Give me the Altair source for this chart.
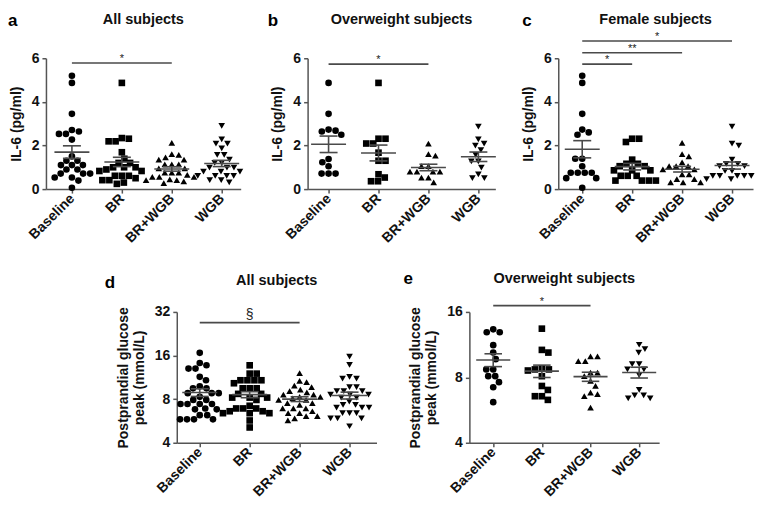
import json
import math
import altair as alt
import pandas as pd

F = "Liberation Sans"
groups = ["Baseline", "BR", "BR+WGB", "WGB"]
shapes = ["circle", "square", "triangle-up", "triangle-down"]

# ---- Panel a: IL-6, all subjects (pg/ml)
a_baseline = [5.20, 4.87, 3.45, 2.71, 2.64, 2.53, 2.53, 2.27, 1.50, 1.30, 1.30, 1.10, 1.10, 1.10,
              0.90, 0.90, 0.71, 0.71, 0.71, 0.53, 0.53, 0.39, 0.06]
a_br = [4.87, 2.34, 2.31, 2.19, 2.19, 1.69, 1.39, 1.20, 1.20, 1.00, 1.00, 1.00, 0.90, 0.83, 0.83,
        0.61, 0.61, 0.61, 0.50, 0.41, 0.41, 0.30, 0.24]
a_brwgb = [2.12, 1.60, 1.57, 1.45, 1.35, 1.35, 1.13, 1.13, 1.13, 0.95, 0.95, 0.76, 0.76, 0.76,
           0.65, 0.56, 0.56, 0.56, 0.45, 0.41, 0.41, 0.35, 0.27]
a_wgb = [2.90, 2.28, 2.09, 2.09, 1.87, 1.57, 1.57, 1.35, 1.20, 1.20, 0.98, 0.98, 0.98, 0.80, 0.80,
         0.80, 0.61, 0.61, 0.61, 0.61, 0.41, 0.41, 0.31]

# ---- Panel b: IL-6, overweight subjects
b_baseline = [4.87, 3.45, 2.73, 2.68, 2.64, 2.49, 1.38, 1.23, 1.05, 0.71, 0.71, 0.71]
b_br = [4.87, 2.31, 2.31, 2.09, 2.09, 1.67, 1.30, 1.30, 0.68, 0.53, 0.36, 0.36]
b_brwgb = [2.09, 1.60, 1.54, 1.05, 1.05, 0.80, 0.80, 0.80, 0.80, 0.53, 0.53, 0.31]
b_wgb = [2.87, 2.28, 2.09, 1.99, 1.79, 1.57, 1.27, 1.27, 0.98, 0.68, 0.50, 0.50]

# ---- Panel c: IL-6, female subjects
c_baseline = [5.20, 4.87, 3.45, 2.73, 2.60, 2.49, 1.39, 1.39, 1.05, 0.75, 0.75, 0.75, 0.75,
              0.50, 0.50, 0.06]
c_br = [2.31, 2.31, 2.16, 1.35, 1.16, 1.16, 1.05, 1.05, 0.86, 0.86, 0.86, 0.61, 0.61, 0.61,
        0.39, 0.39, 0.39, 0.39]
c_brwgb = [2.12, 1.60, 1.50, 1.23, 1.05, 1.05, 1.05, 0.90, 0.90, 0.68, 0.68, 0.46, 0.46, 0.31,
           0.31, 0.31]
c_wgb = [2.87, 2.09, 1.99, 1.35, 1.16, 1.16, 1.05, 1.05, 0.83, 0.83, 0.61, 0.61, 0.61, 0.61,
         0.61, 0.46, 0.46]

# ---- Panel d: postprandial glucose peak, all subjects (mmol/L)
d_baseline = [16.7, 14.2, 13.7, 13.0, 13.0, 11.4, 10.8, 9.8, 9.5, 9.5, 8.8, 8.8, 8.8, 8.3, 7.9,
              7.9, 7.4, 7.4, 7.4, 7.4, 6.9, 6.8, 6.8, 6.2, 6.2, 5.8, 5.8, 5.8, 5.8]
d_br = [13.7, 12.0, 12.0, 10.8, 10.8, 10.8, 10.8, 10.3, 9.5, 9.5, 9.5, 8.7, 8.7, 8.2, 8.2, 8.2,
        7.9, 7.2, 6.9, 6.9, 6.9, 6.6, 6.6, 6.4, 6.4, 6.4, 5.7, 5.1]
d_brwgb = [12.1, 10.7, 10.5, 9.9, 9.7, 9.3, 9.1, 8.9, 8.6, 8.6, 8.3, 8.3, 8.1, 7.9, 7.9, 7.5,
           7.5, 7.3, 6.9, 6.9, 6.9, 6.6, 6.4, 6.4, 6.1, 6.1, 5.9, 5.7]
d_wgb = [15.7, 13.8, 11.4, 11.1, 11.1, 9.7, 9.7, 9.1, 9.1, 9.1, 8.6, 8.6, 8.6, 8.2, 8.2, 7.7,
         7.3, 7.3, 7.0, 7.0, 7.0, 6.4, 6.4, 6.4, 5.9, 5.9, 5.9, 5.2]

# ---- Panel e: postprandial glucose peak, overweight subjects
e_baseline = [13.3, 12.9, 12.9, 11.25, 10.4, 9.7, 8.7, 8.7, 8.1, 8.1, 7.6, 7.2, 6.15]
e_br = [13.4, 10.7, 10.4, 8.8, 8.7, 8.7, 8.6, 8.1, 7.3, 7.0, 6.55, 6.55, 6.3]
e_brwgb = [10.0, 10.0, 9.5, 9.5, 8.4, 8.4, 8.1, 7.7, 7.3, 6.8, 6.7, 6.55, 5.8]
e_wgb = [11.3, 10.8, 10.4, 9.2, 9.2, 8.7, 8.7, 8.2, 7.0, 6.6, 6.6, 6.4, 6.4]

# significance bars: (from group, to group, height, label)
sig_a = [("Baseline", "BR+WGB", 5.78, "*")]
sig_b = [("Baseline", "BR+WGB", 5.73, "*")]
sig_c = [("Baseline", "BR", 5.73, "*"), ("Baseline", "BR+WGB", 6.25, "**"),
         ("Baseline", "WGB", 6.79, "*")]
sig_d = [("Baseline", "BR+WGB", 27.0, "§")]
sig_e = [("Baseline", "BR+WGB", 17.1, "*")]

LINE = "#4a4a4a"
LETTER_SIZE = 17


def swarm_offsets(values, to_px, ppu_x, diam=7.0, step=0.25):
    """Deterministic beeswarm layout: horizontal offsets (data units) so markers don't overlap."""
    idx = sorted(range(len(values)), key=lambda i: -values[i])
    placed = []
    out = [0.0] * len(values)
    for i in idx:
        yp = to_px(values[i])
        k = 0
        found = None
        while found is None:
            if k == 0:
                cands = [0.0]
            else:
                side = sum(p for p, _ in placed)
                cands = [k * step, -k * step] if side <= 0 else [-k * step, k * step]
            for s in cands:
                if all((s - px) ** 2 + (yp - py) ** 2 >= diam * diam for px, py in placed):
                    found = s
                    break
            k += 1
        placed.append((found, yp))
        out[i] = found / ppu_x
    return out


def panel(series, *, title, title_offset, letter, letter_x, letter_y, ytitle, ydomain, yticks,
          log, width, height, xdomain, sig, sig_size, sig_dy):
    if log:
        ppu_y = height / (math.log2(ydomain[1]) - math.log2(ydomain[0]))
        to_px = lambda v: math.log2(v) * ppu_y
    else:
        ppu_y = height / (ydomain[1] - ydomain[0])
        to_px = lambda v: v * ppu_y
    ppu_x = width / (xdomain[1] - xdomain[0])

    rows = []
    for gi, vals in enumerate(series):
        offs = swarm_offsets(vals, to_px, ppu_x)
        for v, o in zip(vals, offs):
            rows.append({"group": groups[gi], "g": gi, "v": v, "xp": gi + o})
    df = pd.DataFrame(rows)

    if log:
        yscale = alt.Scale(type="log", base=2, domain=ydomain, nice=False)
    else:
        yscale = alt.Scale(domain=ydomain, nice=False, zero=False)
    xscale = alt.Scale(domain=xdomain, nice=False, zero=False)
    xaxis = alt.Axis(values=[0, 1, 2, 3], labelExpr=f"{json.dumps(groups)}[datum.value]",
                     title=None, labelAngle=-45, labelAlign="right", labelBaseline="middle",
                     labelOverlap=False, labelFlush=False, labelBound=False, labelPadding=3)
    yaxis = alt.Axis(values=yticks, title=ytitle, format="d", titlePadding=8,
                     titleLineHeight=16, labelPadding=3)

    base = alt.Chart(df)
    pts = base.mark_point(filled=True, opacity=1, size=44, color="black").encode(
        x=alt.X("xp:Q", scale=xscale, axis=xaxis),
        y=alt.Y("v:Q", scale=yscale, axis=yaxis),
        shape=alt.Shape("group:N", scale=alt.Scale(domain=groups, range=shapes), legend=None),
    )
    agg = base.transform_aggregate(m="mean(v)", se="stderr(v)", groupby=["g"]).transform_calculate(
        lo="datum.m - datum.se", hi="datum.m + datum.se",
        ml="datum.g - 0.35", mr="datum.g + 0.35",
        cl="datum.g - 0.18", cr="datum.g + 0.18",
    )
    rule_kw = dict(color=LINE, strokeWidth=1.6)
    mean_r = agg.mark_rule(**rule_kw).encode(x="ml:Q", x2="mr:Q", y="m:Q")
    sem_v = agg.mark_rule(**rule_kw).encode(x="g:Q", y="lo:Q", y2="hi:Q")
    cap_lo = agg.mark_rule(**rule_kw).encode(x="cl:Q", x2="cr:Q", y="lo:Q")
    cap_hi = agg.mark_rule(**rule_kw).encode(x="cl:Q", x2="cr:Q", y="hi:Q")

    sdf = pd.DataFrame([{"x1": groups.index(a), "x2": groups.index(b), "y": y, "lab": lab,
                         "xm": (groups.index(a) + groups.index(b)) / 2}
                        for a, b, y, lab in sig])
    sbase = alt.Chart(sdf)
    sig_r = sbase.mark_rule(color=LINE, strokeWidth=1.6).encode(x="x1:Q", x2="x2:Q", y="y:Q")
    sig_t = sbase.mark_text(font=F, fontSize=sig_size, color="#222", baseline="alphabetic",
                            dy=sig_dy).encode(x="xm:Q", y="y:Q", text="lab:N")

    let = alt.Chart(pd.DataFrame({"t": [letter]})).mark_text(
        font=F, fontSize=LETTER_SIZE, fontWeight="bold", align="left", baseline="alphabetic",
        color="black").encode(text="t:N", x=alt.value(letter_x), y=alt.value(letter_y))

    return alt.layer(pts, mean_r, sem_v, cap_lo, cap_hi, sig_r, sig_t, let).properties(
        width=width, height=height,
        title=alt.TitleParams(title, frame="group", anchor="middle", offset=title_offset,
                              font=F, fontSize=14.5, fontWeight="bold", color="#111"),
    )


il6 = dict(ytitle="IL-6 (pg/ml)", ydomain=[0, 6], yticks=[0, 2, 4, 6], log=False, height=131,
           sig_size=11, sig_dy=-1, title_offset=-15)
pa = panel([a_baseline, a_br, a_brwgb, a_wgb], title="All subjects", letter="a",
           letter_x=-38, letter_y=-32, width=195, xdomain=[-0.52, 3.38], sig=sig_a, **il6)
pb = panel([b_baseline, b_br, b_brwgb, b_wgb], title="Overweight subjects", letter="b",
           letter_x=-40, letter_y=-32, width=188, xdomain=[-0.42, 3.34], sig=sig_b, **il6)
pc = panel([c_baseline, c_br, c_brwgb, c_wgb], title="Female subjects", letter="c",
           letter_x=-36, letter_y=-32, width=195, xdomain=[-0.48, 3.42], sig=sig_c, **il6)

glu_title = ["Postprandial glucose", "peak (mmol/L)"]
pd_ = panel([d_baseline, d_br, d_brwgb, d_wgb], title="All subjects", title_offset=-15,
            letter="d", letter_x=-72, letter_y=-24, ytitle=glu_title, ydomain=[4, 32],
            yticks=[4, 8, 16, 32], log=True, width=200, height=131, xdomain=[-0.46, 3.54],
            sig=sig_d, sig_size=14, sig_dy=-4)
pe = panel([e_baseline, e_br, e_brwgb, e_wgb], title="Overweight subjects", title_offset=-17,
           letter="e", letter_x=-66, letter_y=-28, ytitle=glu_title, ydomain=[4, 16],
           yticks=[4, 8, 16], log=True, width=190, height=131, xdomain=[-0.49, 3.41],
           sig=sig_e, sig_size=11, sig_dy=-1)

# empty, invisible spacer that shifts the lower row to the right
SPACER_W = 32
spacer = alt.Chart(pd.DataFrame({"s": [0]})).mark_rule(opacity=0).encode(
    x=alt.value(0), x2=alt.value(SPACER_W), y=alt.value(0)
).properties(width=SPACER_W, height=1)

top = alt.hconcat(pa, pb, pc, spacing=24)
bottom = alt.hconcat(spacer, pd_, pe, spacing=27)

chart = alt.vconcat(top, bottom, spacing=24).properties(
    padding={"top": 3, "left": 0, "right": 0, "bottom": 4}, background="white"
).configure_view(stroke=None).configure_axis(
    grid=False, domainColor="#555", domainWidth=1.5, tickColor="#555", tickWidth=1.5,
    tickSize=4, labelFont=F, labelFontSize=14, labelFontWeight="bold", labelColor="#111",
    titleFont=F, titleFontSize=14, titleFontWeight="bold", titleColor="#111",
)

chart.save("out.html", embed_options={"renderer": "svg", "actions": False})
